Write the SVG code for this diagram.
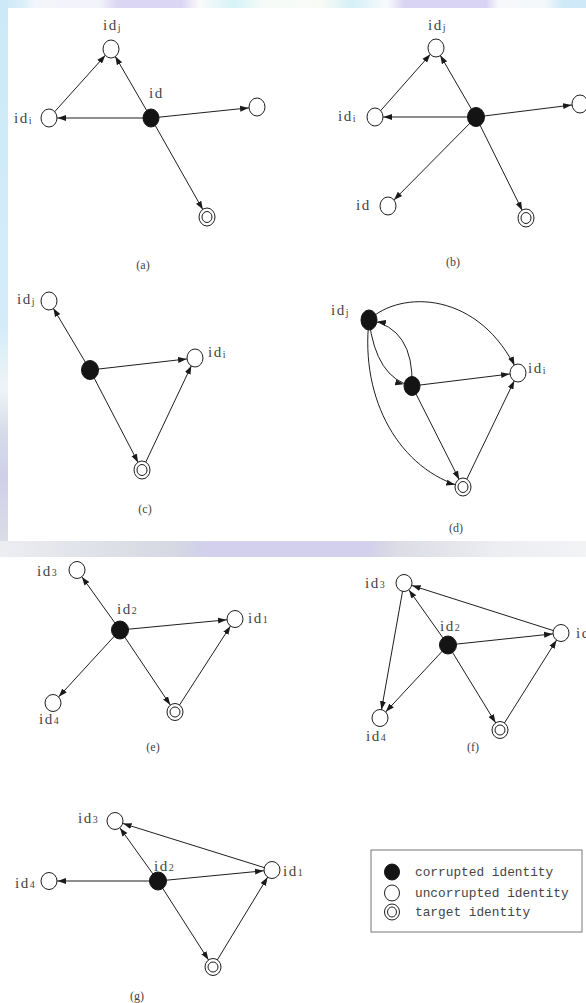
<svg xmlns="http://www.w3.org/2000/svg" width="586" height="1003" viewBox="0 0 586 1003">
<defs>
<marker id="arr" viewBox="0 -4 18 8" markerWidth="18" markerHeight="8" refX="17" refY="0" orient="auto" markerUnits="userSpaceOnUse">
<path d="M0,-3 L8.5,0 L0,3 z" fill="#1a1a1a"/>
</marker>
<linearGradient id="topg" x1="0" y1="0" x2="1" y2="0">
<stop offset="0" stop-color="#cbe8f7"/><stop offset="0.04" stop-color="#dbeff9"/><stop offset="0.06" stop-color="#f4f6fb"/>
<stop offset="0.17" stop-color="#f2f2fa"/><stop offset="0.2" stop-color="#dcd6f5"/><stop offset="0.31" stop-color="#dcd6f5"/>
<stop offset="0.34" stop-color="#fafafa"/><stop offset="0.4" stop-color="#d6f3f8"/><stop offset="0.45" stop-color="#f6fbf8"/>
<stop offset="0.55" stop-color="#f8faf6"/><stop offset="0.6" stop-color="#d5f0f8"/><stop offset="0.66" stop-color="#f8fafb"/>
<stop offset="0.69" stop-color="#dad4f4"/><stop offset="0.83" stop-color="#dad4f4"/><stop offset="0.85" stop-color="#f7f8fa"/>
<stop offset="0.93" stop-color="#f4f8fb"/><stop offset="0.96" stop-color="#cfe9f8"/><stop offset="1" stop-color="#cfe9f8"/>
</linearGradient>
<linearGradient id="leftg" x1="0" y1="0" x2="0" y2="1">
<stop offset="0" stop-color="#cde9f7"/><stop offset="0.6" stop-color="#d3ecf8"/><stop offset="0.72" stop-color="#eef4f6"/>
<stop offset="0.8" stop-color="#d6dbe8"/><stop offset="0.88" stop-color="#d0cfe9"/><stop offset="1" stop-color="#dcdce6"/>
</linearGradient>
<linearGradient id="bandg" x1="0" y1="0" x2="1" y2="0">
<stop offset="0" stop-color="#eceef2"/><stop offset="0.1" stop-color="#e4e6ec"/><stop offset="0.3" stop-color="#d6d8e2"/>
<stop offset="0.35" stop-color="#d2d0ec"/><stop offset="0.63" stop-color="#d2d0ec"/><stop offset="0.68" stop-color="#dcdde5"/>
<stop offset="0.85" stop-color="#eceef2"/><stop offset="1" stop-color="#f2f3f5"/>
</linearGradient>
<style>
.e{stroke:#1e1e1e;stroke-width:1;fill:none;marker-end:url(#arr)}
.w{fill:#fff;stroke:#1e1e1e;stroke-width:1}
.b{fill:#141414;stroke:#141414;stroke-width:1}
.lb{font-family:"Liberation Serif",serif;font-size:15px;fill:#444;letter-spacing:1.5px}
.sb{font-size:10px;letter-spacing:0}
.cap{font-family:"Liberation Serif",serif;font-size:12px;fill:#444;text-anchor:middle}
.lg{font-family:"Liberation Mono",monospace;font-size:12.8px;fill:#444}
</style>
</defs>
<g id="background">
<rect x="0" y="0" width="586" height="1003" fill="#fff"/>
<rect x="0" y="0" width="586" height="8" fill="url(#topg)"/>
<rect x="0" y="0" width="8" height="541" fill="url(#leftg)"/>
<rect x="0" y="541" width="586" height="16" fill="url(#bandg)"/>
</g>
<g id="connectors">
<!-- (a) -->
<line class="e" x1="49" y1="118" x2="111" y2="49"/>
<line class="e" x1="151" y1="118" x2="111" y2="49"/>
<line class="e" x1="151" y1="118" x2="49" y2="118"/>
<line class="e" x1="151" y1="118" x2="257" y2="107"/>
<line class="e" x1="151" y1="118" x2="207" y2="217"/>
<!-- (b) -->
<line class="e" x1="375" y1="117" x2="436" y2="48"/>
<line class="e" x1="476" y1="117" x2="436" y2="48"/>
<line class="e" x1="476" y1="117" x2="375" y2="117"/>
<line class="e" x1="476" y1="117" x2="580" y2="104"/>
<line class="e" x1="476" y1="117" x2="388" y2="206"/>
<line class="e" x1="476" y1="117" x2="526" y2="218"/>
<!-- (c) -->
<line class="e" x1="90" y1="370" x2="49" y2="301"/>
<line class="e" x1="90" y1="370" x2="195" y2="358"/>
<line class="e" x1="90" y1="370" x2="142" y2="470"/>
<line class="e" x1="142" y1="470" x2="195" y2="358"/>
<!-- (d) -->
<path class="e" d="M369,320 C400,290 480,290 518,373"/>
<path class="e" d="M369,320 Q376,378 412,386"/>
<path class="e" d="M412,386 Q414,328 369,320"/>
<path class="e" d="M369,320 C360,400 400,470 463,487"/>
<line class="e" x1="412" y1="386" x2="518" y2="373"/>
<line class="e" x1="412" y1="386" x2="463" y2="487"/>
<line class="e" x1="463" y1="487" x2="518" y2="373"/>
<!-- (e) -->
<line class="e" x1="120" y1="630" x2="77" y2="570"/>
<line class="e" x1="120" y1="630" x2="235" y2="619"/>
<line class="e" x1="120" y1="630" x2="53" y2="703"/>
<line class="e" x1="120" y1="630" x2="175" y2="712"/>
<line class="e" x1="175" y1="712" x2="235" y2="619"/>
<!-- (f) -->
<line class="e" x1="448" y1="645" x2="404" y2="583"/>
<line class="e" x1="448" y1="645" x2="561" y2="633"/>
<line class="e" x1="448" y1="645" x2="380" y2="718"/>
<line class="e" x1="448" y1="645" x2="500" y2="730"/>
<line class="e" x1="500" y1="730" x2="561" y2="633"/>
<line class="e" x1="561" y1="633" x2="404" y2="583"/>
<line class="e" x1="404" y1="583" x2="380" y2="718"/>
<!-- (g) -->
<line class="e" x1="158" y1="881" x2="115" y2="821"/>
<line class="e" x1="158" y1="881" x2="49" y2="881"/>
<line class="e" x1="158" y1="881" x2="272" y2="870"/>
<line class="e" x1="158" y1="881" x2="213" y2="967"/>
<line class="e" x1="213" y1="967" x2="272" y2="870"/>
<line class="e" x1="272" y1="870" x2="115" y2="821"/>
</g>
<g id="panel-a">
<g id="a-idj"><ellipse class="w" cx="111" cy="49" rx="8" ry="9"/><text class="lb" x="103" y="30">id<tspan class="sb" dy="1">j</tspan></text></g>
<g id="a-idi"><ellipse class="w" cx="49" cy="118" rx="8" ry="9"/><text class="lb" x="14" y="123">id<tspan class="sb" dy="1">i</tspan></text></g>
<g id="a-id"><ellipse class="b" cx="151" cy="118" rx="8" ry="9"/><text class="lb" x="149" y="98">id</text></g>
<g id="a-r"><ellipse class="w" cx="257" cy="107" rx="8" ry="9"/></g>
<g id="a-t"><ellipse class="w" cx="207" cy="217" rx="8" ry="9"/><ellipse class="w" cx="207" cy="217" rx="5" ry="5.5"/></g>
<text class="cap" x="143" y="269">(a)</text>
</g>
<g id="panel-b">
<g id="b-idj"><ellipse class="w" cx="436" cy="48" rx="8" ry="9"/><text class="lb" x="428" y="30">id<tspan class="sb" dy="1">j</tspan></text></g>
<g id="b-idi"><ellipse class="w" cx="375" cy="117" rx="8" ry="9"/><text class="lb" x="338" y="121">id<tspan class="sb" dy="1">i</tspan></text></g>
<g id="b-c"><ellipse class="b" cx="476" cy="117" rx="8.5" ry="9.5"/></g>
<g id="b-r"><ellipse class="w" cx="580" cy="104" rx="8" ry="9"/></g>
<g id="b-id"><ellipse class="w" cx="388" cy="206" rx="8" ry="9"/><text class="lb" x="356" y="210">id</text></g>
<g id="b-t"><ellipse class="w" cx="526" cy="218" rx="8" ry="9"/><ellipse class="w" cx="526" cy="218" rx="5" ry="5.5"/></g>
<text class="cap" x="453" y="266">(b)</text>
</g>
<g id="panel-c">
<g id="c-idj"><ellipse class="w" cx="49" cy="301" rx="8" ry="9"/><text class="lb" x="17" y="304">id<tspan class="sb" dy="1">j</tspan></text></g>
<g id="c-c"><ellipse class="b" cx="90" cy="370" rx="8.5" ry="9.5"/></g>
<g id="c-idi"><ellipse class="w" cx="195" cy="358" rx="8" ry="9"/><text class="lb" x="208" y="357">id<tspan class="sb" dy="1">i</tspan></text></g>
<g id="c-t"><ellipse class="w" cx="142" cy="470" rx="8" ry="9"/><ellipse class="w" cx="142" cy="470" rx="5" ry="5.5"/></g>
<text class="cap" x="145" y="513">(c)</text>
</g>
<g id="panel-d">
<g id="d-idj"><ellipse class="b" cx="369" cy="320" rx="8" ry="10"/><text class="lb" x="331" y="315">id<tspan class="sb" dy="1">j</tspan></text></g>
<g id="d-m"><ellipse class="b" cx="412" cy="386" rx="8" ry="9.5"/></g>
<g id="d-idi"><ellipse class="w" cx="518" cy="373" rx="8" ry="9"/><text class="lb" x="528" y="373">id<tspan class="sb" dy="1">i</tspan></text></g>
<g id="d-t"><ellipse class="w" cx="463" cy="487" rx="8" ry="9"/><ellipse class="w" cx="463" cy="487" rx="5" ry="5.5"/></g>
<text class="cap" x="456" y="532">(d)</text>
</g>
<g id="panel-e">
<g id="e-id3"><ellipse class="w" cx="77" cy="570" rx="8" ry="8.5"/><text class="lb" x="37" y="576">id<tspan class="sb" dy="0">3</tspan></text></g>
<g id="e-id2"><ellipse class="b" cx="120" cy="630" rx="8.5" ry="9"/><text class="lb" x="117" y="614">id<tspan class="sb" dy="0">2</tspan></text></g>
<g id="e-id1"><ellipse class="w" cx="235" cy="619" rx="8" ry="8.5"/><text class="lb" x="248" y="623">id<tspan class="sb" dy="0">1</tspan></text></g>
<g id="e-id4"><ellipse class="w" cx="53" cy="703" rx="8" ry="8.5"/><text class="lb" x="39" y="724">id<tspan class="sb" dy="0">4</tspan></text></g>
<g id="e-t"><ellipse class="w" cx="175" cy="712" rx="8" ry="8.5"/><ellipse class="w" cx="175" cy="712" rx="5" ry="5"/></g>
<text class="cap" x="153" y="751">(e)</text>
</g>
<g id="panel-f">
<g id="f-id3"><ellipse class="w" cx="404" cy="583" rx="8" ry="8.5"/><text class="lb" x="365" y="588">id<tspan class="sb" dy="0">3</tspan></text></g>
<g id="f-id2"><ellipse class="b" cx="448" cy="645" rx="8.5" ry="9"/><text class="lb" x="440" y="631">id<tspan class="sb" dy="0">2</tspan></text></g>
<g id="f-id1"><ellipse class="w" cx="561" cy="633" rx="8" ry="8.5"/><text class="lb" x="576" y="638">id<tspan class="sb" dy="0">1</tspan></text></g>
<g id="f-id4"><ellipse class="w" cx="380" cy="718" rx="8" ry="8.5"/><text class="lb" x="366" y="741">id<tspan class="sb" dy="0">4</tspan></text></g>
<g id="f-t"><ellipse class="w" cx="500" cy="730" rx="8" ry="8.5"/><ellipse class="w" cx="500" cy="730" rx="5" ry="5"/></g>
<text class="cap" x="473" y="751">(f)</text>
</g>
<g id="panel-g">
<g id="g-id3"><ellipse class="w" cx="115" cy="821" rx="8" ry="8.5"/><text class="lb" x="78" y="823">id<tspan class="sb" dy="0">3</tspan></text></g>
<g id="g-id2"><ellipse class="b" cx="158" cy="881" rx="8.5" ry="9"/><text class="lb" x="154" y="871">id<tspan class="sb" dy="0">2</tspan></text></g>
<g id="g-id1"><ellipse class="w" cx="272" cy="870" rx="8" ry="8.5"/><text class="lb" x="283" y="876">id<tspan class="sb" dy="0">1</tspan></text></g>
<g id="g-id4"><ellipse class="w" cx="49" cy="881" rx="8" ry="8.5"/><text class="lb" x="15" y="888">id<tspan class="sb" dy="0">4</tspan></text></g>
<g id="g-t"><ellipse class="w" cx="213" cy="967" rx="8" ry="8.5"/><ellipse class="w" cx="213" cy="967" rx="5" ry="5"/></g>
<text class="cap" x="137" y="1000">(g)</text>
</g>
<g id="legend">
<rect x="371" y="850" width="211" height="82" fill="#fff" stroke="#777" stroke-width="1"/>
<ellipse class="b" cx="392" cy="872" rx="7.5" ry="8"/>
<text class="lg" x="415" y="876">corrupted identity</text>
<ellipse class="w" cx="392" cy="893" rx="7.5" ry="8"/>
<text class="lg" x="415" y="897">uncorrupted identity</text>
<ellipse class="w" cx="392" cy="912" rx="7.5" ry="8"/>
<ellipse class="w" cx="392" cy="912" rx="4.5" ry="5"/>
<text class="lg" x="415" y="916">target identity</text>
</g>
</svg>
